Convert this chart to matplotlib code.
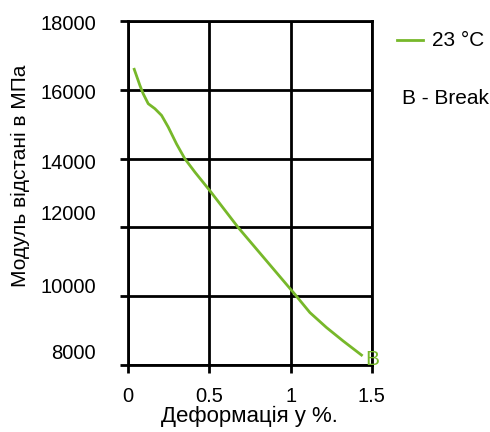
import matplotlib.pyplot as plt
from matplotlib.transforms import ScaledTranslation

plt.rcParams['font.family'] = ['Liberation Sans', 'DejaVu Sans']

# strain (%) vs modulus (MPa), 23 °C
strain = [0.039, 0.074, 0.094, 0.125, 0.166, 0.207, 0.248, 0.299, 0.350, 0.412,
          0.504, 0.678, 0.852, 1.026, 1.119, 1.221, 1.323, 1.436]
modulus = [16600, 16130, 15890, 15600, 15455, 15260, 14920, 14430, 14000, 13610,
           13070, 12000, 11030, 10060, 9525, 9090, 8700, 8290]
xticks = [0, 0.5, 1, 1.5]
xticklabels = ['0', '0.5', '1', '1.5']
yticks = [8000, 10000, 12000, 14000, 16000, 18000]

green = '#77b82a'

fig = plt.figure(figsize=(4.9, 4.32), dpi=100)
ax = fig.add_axes([0.261, 0.155, 0.498, 0.796])

ax.plot(strain, modulus, color=green, lw=2, solid_joinstyle='round')
ax.annotate('B', (strain[-1], modulus[-1]), xytext=(3, -3), textcoords='offset points',
            color=green, fontsize=15, ha='left', va='center')

ax.set_xlim(0, 1.5)
ax.set_ylim(8000, 18000)
ax.set_xticks(xticks)
ax.set_xticklabels(xticklabels)
ax.set_yticks(yticks)
ax.grid(True, color='black', lw=2)
for s in ax.spines.values():
    s.set_color('black')
    s.set_linewidth(2)
ax.tick_params(length=6, width=2, labelsize=14.5)
ax.tick_params(axis='y', pad=17)
ax.tick_params(axis='x', pad=10)

# the labels in the original sit a bit off their grid lines
shifts = [14, 11, 15, -3, -2, -1]
for lab, dy in zip(ax.get_yticklabels(), shifts):
    lab.set_transform(lab.get_transform() + ScaledTranslation(0, dy / 100, fig.dpi_scale_trans))

ax.set_xlabel('Деформація у %.', fontsize=16, labelpad=0)
ax.set_ylabel('Модуль відстані в МПа', fontsize=15)
ax.yaxis.set_label_coords(-0.40, 0.55)

fig.lines.append(plt.Line2D([0.81, 0.863], [0.907, 0.907], color=green, lw=2,
                            transform=fig.transFigure))
fig.text(0.882, 0.907, '23 °C', fontsize=15, va='center')
fig.text(0.82, 0.773, 'B - Break', fontsize=15, va='center')

fig.savefig('out.png')
